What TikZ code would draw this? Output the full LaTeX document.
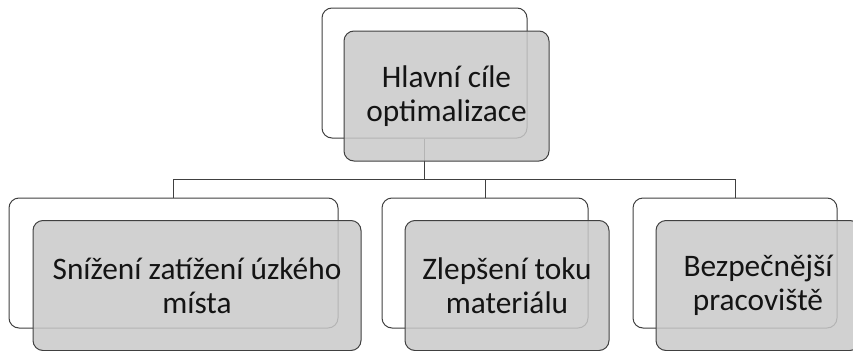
\documentclass[tikz,border=0pt]{standalone}
\usepackage{fontspec}
\setmainfont{Carlito}
\usepackage{xcolor}

\begin{document}
\begin{tikzpicture}[x=0.75pt,y=-0.75pt,
  backbox/.style={draw=black!75, line width=0.75pt, fill=white, rounded corners=7.5pt, minimum height=97.5pt, inner sep=0pt},
  frontbox/.style={draw=black!75, line width=0.75pt, fill=black!21, fill opacity=0.85, text opacity=1, text=black!92, rounded corners=7.5pt, minimum height=97.5pt, inner sep=0pt, align=center, font=\fontsize{23.5}{25.5}\selectfont},
  link/.style={draw=black!75, line width=0.75pt}]
            \useasboundingbox (0,0) rectangle (853,350);
            \clip (0,0) rectangle (853,350);
            % back boxes
            \node [backbox, minimum width=153.75pt] (goal) at (424.5,73) {};
            \node [backbox, minimum width=246.75pt] (sub1) at (173.5,263) {};
            \node [backbox, minimum width=154.5pt] (sub2) at (485,263) {};
            \node [backbox, minimum width=153pt] (sub3) at (735,263) {};
            % connectors
            \coordinate (fork) at (424.5,179);
            \draw [link] (goal.south) -- (fork);
            \foreach \n in {sub1,sub2,sub3}
              \draw [link] (fork) -| (\n.north);
            % front boxes
            \node [frontbox, minimum width=153.75pt] (goalF) at (446.5,96) {Hlavní cíle\\optimalizace};
            \node [frontbox, minimum width=246pt] (sub1F) at (197,285.5) {Snížení zatížení úzkého\\místa};
            \node [frontbox, minimum width=153pt] (sub2F) at (507,285.5) {Zlepšení toku\\materiálu};
            \node [frontbox, minimum width=153pt] (sub3F) at (758,285.5) {Bezpečnější\\pracoviště};
\end{tikzpicture}
\end{document}
